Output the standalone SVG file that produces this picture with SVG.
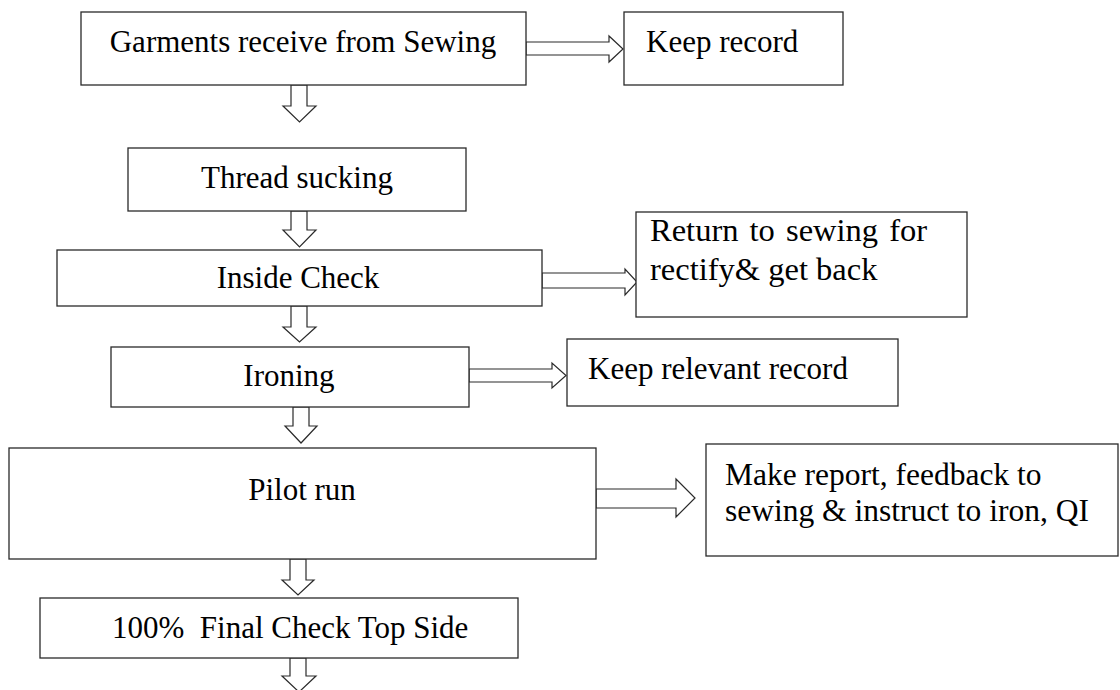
<svg xmlns="http://www.w3.org/2000/svg" width="1120" height="690" viewBox="0 0 1120 690">
<style>
.box{fill:#fff;stroke:#2a2a2a;stroke-width:1.3}
.arr{fill:#fff;stroke:#2a2a2a;stroke-width:1.2;stroke-linejoin:miter}
text{font-family:"Liberation Serif","Times New Roman",serif;font-size:31px;fill:#000}
.c{text-anchor:middle}
.big{font-size:32.5px}
</style>
<rect width="1120" height="690" fill="#fff"/>
<g id="connectors">
<path class="arr" d="M526,42 L609,42 L609,36 L623,49 L609,62 L609,55 L526,55 Z"/>
<path class="arr" d="M542,273 L625,273 L625,269 L637,282 L625,295 L625,288 L542,288 Z"/>
<path class="arr" d="M469,369 L552,369 L552,363 L566,375.5 L552,388 L552,382 L469,382 Z"/>
<path class="arr" d="M596,489 L676,489 L676,479 L695,498 L676,517 L676,508 L596,508 Z"/>
<path class="arr" d="M291,85 L307,85 L307,106 L316,106 L299.5,122 L283,106 L291,106 Z"/>
<path class="arr" d="M291,211 L307,211 L307,230 L316,230 L299.5,247 L283,230 L291,230 Z"/>
<path class="arr" d="M291,306 L307,306 L307,327 L316,327 L299.5,342 L283,327 L291,327 Z"/>
<path class="arr" d="M293,407 L309,407 L309,426 L317,426 L301,443 L285,426 L293,426 Z"/>
<path class="arr" d="M290,559 L306,559 L306,580 L314,580 L298,595 L282,580 L290,580 Z"/>
<path class="arr" d="M290,658 L306,658 L306,676 L316,676 L299,692 L282,676 L290,676 Z"/>
</g>
<g id="n1"><rect class="box" x="81" y="12" width="445" height="73"/><text class="c" x="303" y="52">Garments receive from Sewing</text></g>
<g id="n2"><rect class="box" x="624" y="12" width="219" height="73"/><text x="646" y="52">Keep record</text></g>
<g id="n3"><rect class="box" x="128" y="148" width="338" height="63"/><text class="c" x="297" y="188">Thread sucking</text></g>
<g id="n4"><rect class="box" x="57" y="250" width="485" height="56"/><text class="c" x="298" y="288">Inside Check</text></g>
<g id="n5"><rect class="box" x="636" y="212" width="331" height="105"/><text class="big" x="650" y="241" word-spacing="3">Return to sewing for</text><text class="big" x="650" y="280">rectify&amp; get back</text></g>
<g id="n6"><rect class="box" x="111" y="347" width="358" height="60"/><text class="c" x="289" y="386">Ironing</text></g>
<g id="n7"><rect class="box" x="567" y="339" width="331" height="67"/><text x="588" y="379">Keep relevant record</text></g>
<g id="n8"><rect class="box" x="9" y="448" width="587" height="111"/><text class="c" x="302" y="500">Pilot run</text></g>
<g id="n9"><rect class="box" x="706" y="444" width="412" height="112"/><text x="725" y="485" style="font-size:31.5px">Make report, feedback to</text><text x="725" y="521" style="font-size:31.5px">sewing &amp; instruct to iron, QI</text></g>
<g id="n10"><rect class="box" x="40" y="598" width="478" height="60"/><text x="112" y="638" xml:space="preserve">100%  Final Check Top Side</text></g>
</svg>
